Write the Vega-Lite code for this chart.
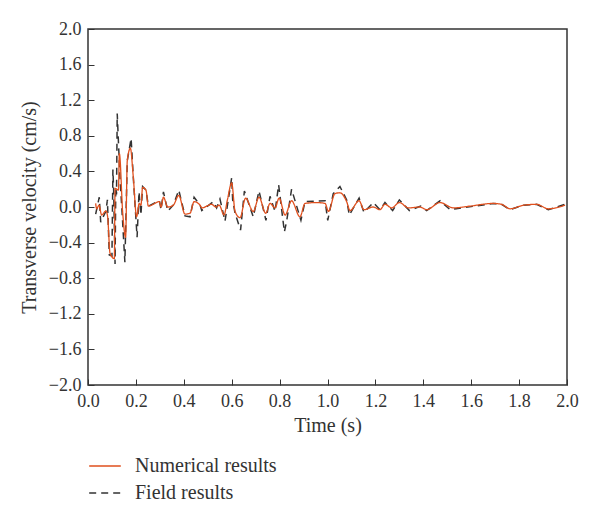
{
  "$schema": "https://vega.github.io/schema/vega-lite/v6.json",
  "width": 479,
  "height": 356,
  "autosize": "none",
  "padding": {"left": 88, "top": 29, "right": 33, "bottom": 132},
  "background": "white",
  "config": {
    "font": "Liberation Serif",
    "view": {"stroke": "#333333", "strokeWidth": 1.5}
  },
  "datasets": {
    "numerical": [
      {"t":0.032,"v":0.04},{"t":0.036,"v":-0.02},{"t":0.046,"v":0.02},{"t":0.057,"v":-0.09},{"t":0.075,"v":-0.045},{"t":0.082,"v":-0.11},{"t":0.092,"v":-0.52},{"t":0.11,"v":-0.58},{"t":0.113,"v":0.21},{"t":0.127,"v":0.19},{"t":0.131,"v":0.6},{"t":0.145,"v":-0.07},{"t":0.157,"v":-0.34},{"t":0.164,"v":0.52},{"t":0.177,"v":0.66},{"t":0.189,"v":0.34},{"t":0.203,"v":-0.11},{"t":0.214,"v":0.04},{"t":0.221,"v":0.02},{"t":0.228,"v":0.22},{"t":0.242,"v":0.19},{"t":0.252,"v":0.01},{"t":0.298,"v":0.06},{"t":0.305,"v":0},{"t":0.315,"v":0.11},{"t":0.333,"v":0},{"t":0.356,"v":0.02},{"t":0.379,"v":0.13},{"t":0.405,"v":-0.08},{"t":0.426,"v":-0.07},{"t":0.443,"v":0.06},{"t":0.468,"v":0.02},
      {"t":0.475,"v":-0.01},{"t":0.516,"v":0.03},{"t":0.534,"v":0},{"t":0.548,"v":0.02},{"t":0.568,"v":-0.09},{"t":0.582,"v":0.08},{"t":0.6,"v":0.27},{"t":0.614,"v":-0.05},{"t":0.635,"v":-0.12},{"t":0.658,"v":0.1},{"t":0.69,"v":-0.05},{"t":0.714,"v":0.11},{"t":0.742,"v":-0.07},{"t":0.76,"v":0.04},{"t":0.781,"v":-0.01},{"t":0.798,"v":0.1},{"t":0.823,"v":-0.09},{"t":0.85,"v":0.07},{"t":0.885,"v":-0.11},{"t":0.906,"v":0.04},{"t":0.955,"v":0.05},{"t":0.99,"v":0.04},{"t":1.004,"v":-0.05},{"t":1.031,"v":0.15},{"t":1.052,"v":0.16},{"t":1.08,"v":0.06},{"t":1.094,"v":-0.04},{"t":1.132,"v":0.07},{"t":1.152,"v":-0.03},{"t":1.191,"v":0},{"t":1.219,"v":-0.03},
      {"t":1.24,"v":0.03},{"t":1.268,"v":-0.01},{"t":1.3,"v":0.05},{"t":1.338,"v":-0.01},{"t":1.386,"v":0},{"t":1.414,"v":-0.03},{"t":1.47,"v":0.05},{"t":1.525,"v":-0.01},{"t":1.595,"v":0.01},{"t":1.692,"v":0.04},{"t":1.727,"v":0.03},{"t":1.762,"v":-0.02},{"t":1.818,"v":0.02},{"t":1.873,"v":0.03},{"t":1.922,"v":-0.02},{"t":1.992,"v":0.02}
    ],
    "field": [
      {"t":0.032,"v":-0.08},{"t":0.047,"v":0.11},{"t":0.053,"v":-0.17},{"t":0.075,"v":-0.045},{"t":0.081,"v":0.08},{"t":0.089,"v":-0.54},{"t":0.1,"v":-0.55},{"t":0.104,"v":0.42},{"t":0.107,"v":0.2},{"t":0.113,"v":-0.64},{"t":0.116,"v":0.22},{"t":0.119,"v":0.14},{"t":0.122,"v":1.05},{"t":0.134,"v":0.3},{"t":0.141,"v":0},{"t":0.154,"v":-0.62},{"t":0.164,"v":0.52},{"t":0.18,"v":0.77},{"t":0.189,"v":0.34},{"t":0.205,"v":-0.34},{"t":0.213,"v":0.17},{"t":0.221,"v":-0.09},{"t":0.228,"v":0.23},{"t":0.242,"v":0.19},{"t":0.252,"v":0.01},{"t":0.298,"v":0.07},{"t":0.305,"v":-0.03},{"t":0.315,"v":0.17},{"t":0.333,"v":-0.045},{"t":0.356,"v":0.02},{"t":0.379,"v":0.19},{"t":0.405,"v":-0.1},{"t":0.426,"v":-0.11},{"t":0.443,"v":0.11},{"t":0.468,"v":0.02},
      {"t":0.475,"v":-0.04},{"t":0.523,"v":0.06},{"t":0.537,"v":-0.01},{"t":0.551,"v":0.09},{"t":0.572,"v":-0.16},{"t":0.6,"v":0.33},{"t":0.604,"v":0.08},{"t":0.614,"v":-0.07},{"t":0.637,"v":-0.26},{"t":0.653,"v":0.18},{"t":0.69,"v":-0.11},{"t":0.714,"v":0.18},{"t":0.743,"v":-0.15},{"t":0.76,"v":0.12},{"t":0.781,"v":-0.05},{"t":0.796,"v":0.25},{"t":0.82,"v":-0.28},{"t":0.83,"v":-0.15},{"t":0.85,"v":0.2},{"t":0.889,"v":-0.15},{"t":0.906,"v":0.06},{"t":0.99,"v":0.07},{"t":1.001,"v":-0.15},{"t":1.024,"v":0.15},{"t":1.052,"v":0.23},{"t":1.08,"v":0.08},{"t":1.091,"v":-0.09},{"t":1.132,"v":0.1},{"t":1.152,"v":-0.06},{"t":1.191,"v":0.05},{"t":1.219,"v":-0.03},
      {"t":1.24,"v":0.05},{"t":1.272,"v":-0.04},{"t":1.3,"v":0.08},{"t":1.342,"v":-0.04},{"t":1.389,"v":0.01},{"t":1.414,"v":-0.04},{"t":1.47,"v":0.07},{"t":1.512,"v":-0.03},{"t":1.537,"v":-0.02},{"t":1.692,"v":0.04},{"t":1.727,"v":0.03},{"t":1.762,"v":-0.03},{"t":1.818,"v":0.02},{"t":1.873,"v":0.03},{"t":1.922,"v":-0.03},{"t":1.992,"v":0.03}
    ]
  },
  "encoding": {
    "x": {
      "field": "t",
      "type": "quantitative",
      "title": "Time (s)",
      "scale": {"domain": [0, 2], "nice": false},
      "axis": {
        "values": [0, 0.2, 0.4, 0.6, 0.8, 1.0, 1.2, 1.4, 1.6, 1.8, 2.0],
        "format": ".1f",
        "grid": false,
        "domain": false,
        "tickSize": -6,
        "tickColor": "#333333",
        "labelPadding": 13,
        "labelFont": "Liberation Serif",
        "labelFontSize": 18,
        "labelColor": "#333333",
        "labelFlush": false,
        "titleFont": "Liberation Serif",
        "titleFontSize": 20,
        "titleFontWeight": "normal",
        "titleColor": "#333333",
        "titlePadding": 5
      }
    },
    "y": {
      "field": "v",
      "type": "quantitative",
      "title": "Transverse velocity (cm/s)",
      "scale": {"domain": [-2, 2], "nice": false},
      "axis": {
        "values": [-2, -1.6, -1.2, -0.8, -0.4, 0, 0.4, 0.8, 1.2, 1.6, 2],
        "format": ".1f",
        "grid": false,
        "domain": false,
        "tickSize": -6,
        "tickColor": "#333333",
        "labelPadding": 13,
        "labelFont": "Liberation Serif",
        "labelFontSize": 18,
        "labelColor": "#333333",
        "titleFont": "Liberation Serif",
        "titleFontSize": 20,
        "titleFontWeight": "normal",
        "titleColor": "#333333",
        "titlePadding": 9
      }
    },
    "color": {
      "field": "series",
      "type": "nominal",
      "scale": {"domain": ["Numerical results", "Field results"], "range": ["#e0501e", "#333333"]},
      "legend": {
        "orient": "none",
        "legendX": 0,
        "legendY": 420,
        "title": null,
        "symbolType": "stroke",
        "symbolSize": 1000,
        "symbolStrokeWidth": 1.5,
        "labelFont": "Liberation Serif",
        "labelFontSize": 20,
        "labelColor": "#333333",
        "labelOffset": 13,
        "rowPadding": -9
      }
    },
    "strokeDash": {
      "field": "series",
      "type": "nominal",
      "scale": {"domain": ["Numerical results", "Field results"], "range": [[1, 0], [7, 5]]},
      "legend": null
    }
  },
  "layer": [
    {
      "data": {"name": "field"},
      "transform": [{"calculate": "'Field results'", "as": "series"}],
      "mark": {"type": "line", "strokeWidth": 1.5}
    },
    {
      "data": {"name": "numerical"},
      "transform": [{"calculate": "'Numerical results'", "as": "series"}],
      "mark": {"type": "line", "strokeWidth": 1.3, "interpolate": "monotone"}
    }
  ]
}
